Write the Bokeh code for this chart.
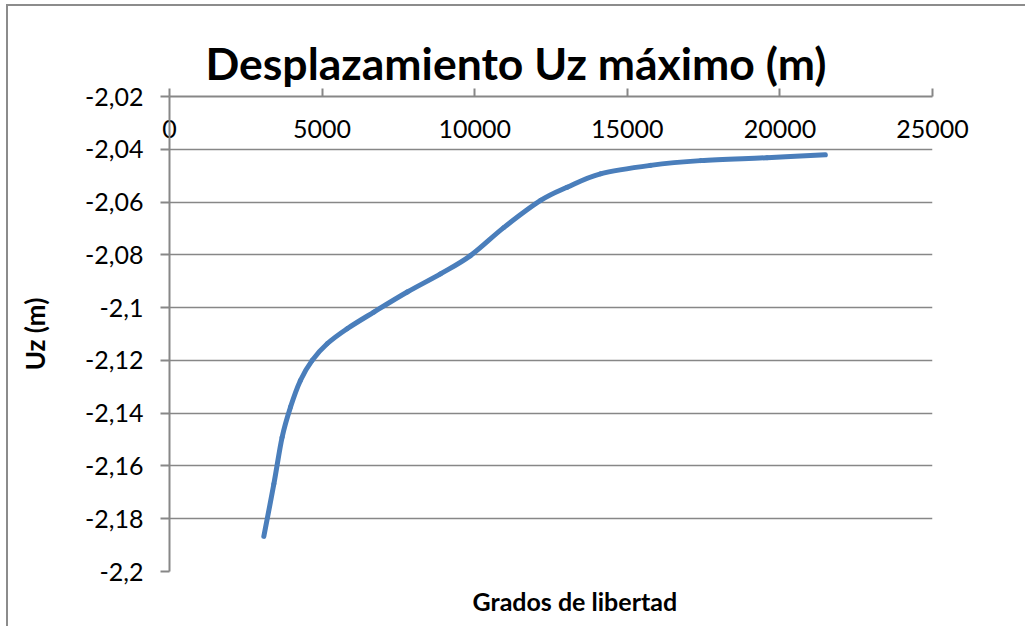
from bokeh.plotting import figure
from bokeh.models import Range1d, FixedTicker, CustomJSTickFormatter, Title
from bokeh.embed import file_html
from bokeh.resources import INLINE

# Data
dof = [3090, 3420, 3690, 3965, 4290, 4675, 5165, 5820, 6695, 7790, 8880,
       9860, 10950, 12160, 13030, 14120, 15760, 17400, 19580, 21490]
uz = [-2.1867, -2.1668, -2.1491, -2.1377, -2.1276, -2.1200, -2.1137, -2.1080,
      -2.1017, -2.0941, -2.0872, -2.0803, -2.0697, -2.0594, -2.0544, -2.0493,
      -2.0461, -2.0443, -2.0432, -2.0421]

x_ticks = [0, 5000, 10000, 15000, 20000, 25000]
x_tick_labels = ["0", "5000", "10000", "15000", "20000", "25000"]
y_ticks = [-2.2, -2.18, -2.16, -2.14, -2.12, -2.1, -2.08, -2.06, -2.04, -2.02]
y_tick_labels = ["-2,2", "-2,18", "-2,16", "-2,14", "-2,12", "-2,1",
                 "-2,08", "-2,06", "-2,04", "-2,02"]

title_text = "Desplazamiento Uz máximo (m)"
x_label = "Grados de libertad"
y_label = "Uz (m)"

FONT = "Lato"
GRID = "#878787"

p = figure(width=1019, height=622,
           x_range=Range1d(0, 25000), y_range=Range1d(-2.2, -2.02),
           x_axis_location="above",
           output_backend="svg", toolbar_location=None,
           min_border_left=161, min_border_right=95,
           min_border_top=90, min_border_bottom=57,
           margin=(6, 0, 0, 8),
           styles={"box-shadow": "-2px -2px 0 0 #8c8c8c"})

p.outline_line_color = None
p.background_fill_color = "white"
p.border_fill_color = "white"

# Title
p.title.text = title_text
p.title.align = "left"
p.title.offset = 36
p.title.standoff = 10
p.title.text_font = FONT
p.title.text_font_style = "bold"
p.title.text_font_size = "44.5px"
p.title.text_color = "black"

# X axis (on top)
xa = p.xaxis[0]
xa.ticker = FixedTicker(ticks=x_ticks)
xa.formatter = CustomJSTickFormatter(args=dict(vals=x_ticks, labels=x_tick_labels), code="""
const i = vals.findIndex(v => Math.abs(v - tick) < 1e-6);
return i >= 0 ? labels[i] : "";
""")
xa.axis_line_color = GRID
xa.axis_line_width = 2
xa.major_tick_line_color = GRID
xa.major_tick_line_width = 2
xa.major_tick_out = 8
xa.major_tick_in = 0
xa.minor_tick_line_color = None
xa.major_label_text_font = FONT
xa.major_label_text_font_size = "25px"
xa.major_label_text_color = "black"
xa.major_label_standoff = -49
# blank axis label only reserves a little room between the axis and the title
xa.axis_label = " "
xa.axis_label_text_font_size = "10px"
xa.axis_label_standoff = 9

# Y axis
ya = p.yaxis[0]
ya.ticker = FixedTicker(ticks=y_ticks)
ya.formatter = CustomJSTickFormatter(args=dict(vals=y_ticks, labels=y_tick_labels), code="""
const i = vals.findIndex(v => Math.abs(v - tick) < 1e-6);
return i >= 0 ? labels[i] : "";
""")
ya.axis_line_color = GRID
ya.axis_line_width = 2
ya.major_tick_line_color = GRID
ya.major_tick_line_width = 2
ya.major_tick_out = 9
ya.major_tick_in = 0
ya.minor_tick_line_color = None
ya.major_label_text_font = FONT
ya.major_label_text_font_size = "25px"
ya.major_label_text_color = "black"
ya.major_label_standoff = 17
ya.axis_label = y_label
ya.axis_label_text_font = FONT
ya.axis_label_text_font_style = "bold"
ya.axis_label_text_font_size = "26px"
ya.axis_label_text_color = "black"
ya.axis_label_standoff = 31

# Grid
p.xgrid.grid_line_color = None
p.ygrid.ticker = FixedTicker(ticks=y_ticks)
p.ygrid.grid_line_color = GRID
p.ygrid.grid_line_width = 1.6

# X axis title below the plot
p.add_layout(Title(text=x_label, align="left", offset=303,
                   text_font=FONT, text_font_style="bold",
                   text_font_size="25px", text_color="black", standoff=24), "below")

# Series, drawn as a smoothed line (Catmull-Rom segments through the points)
n = len(dof)
x0, y0, x1, y1, cx0, cy0, cx1, cy1 = [], [], [], [], [], [], [], []
for i in range(n - 1):
    pa = (dof[max(i - 1, 0)], uz[max(i - 1, 0)])
    pb = (dof[i], uz[i])
    pc = (dof[i + 1], uz[i + 1])
    pd = (dof[min(i + 2, n - 1)], uz[min(i + 2, n - 1)])
    x0.append(pb[0]); y0.append(pb[1])
    x1.append(pc[0]); y1.append(pc[1])
    cx0.append(pb[0] + (pc[0] - pa[0]) / 6); cy0.append(pb[1] + (pc[1] - pa[1]) / 6)
    cx1.append(pc[0] - (pd[0] - pb[0]) / 6); cy1.append(pc[1] - (pd[1] - pb[1]) / 6)

p.bezier(x0=x0, y0=y0, x1=x1, y1=y1, cx0=cx0, cy0=cy0, cx1=cx1, cy1=cy1,
         line_color="#4A7EBB", line_width=5, line_cap="round")

open("out.html", "w").write(file_html(p, INLINE))
